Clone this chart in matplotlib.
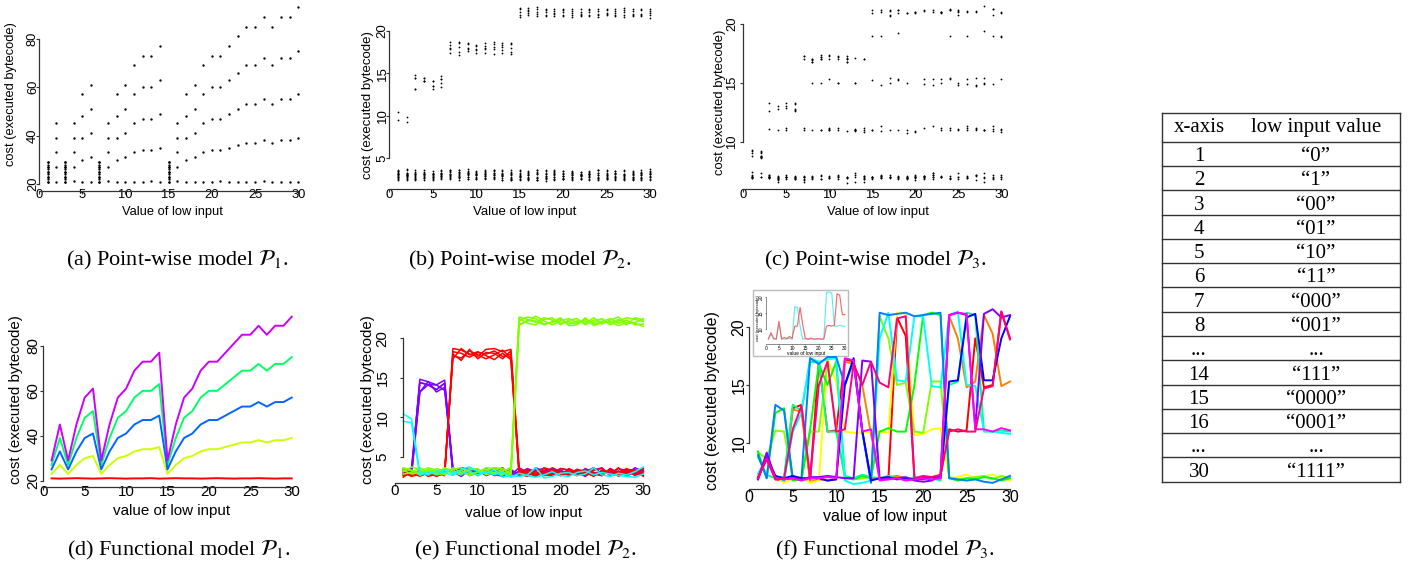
import matplotlib
matplotlib.use("Agg")
import matplotlib.pyplot as plt
from matplotlib.patches import Rectangle

plt.rcParams['font.family'] = ['Liberation Sans', 'DejaVu Sans']
plt.rcParams['mathtext.fontset'] = 'stix'

W, H = 1412, 576
xs = list(range(1, 31))

# ---------------- model P1 (panels a, d) ----------------
p1_red = [21.0, 20.9, 21.0, 21.1, 21.0, 20.9, 21.0, 21.1, 21.0, 20.9, 21.0, 21.0, 21.1, 20.9, 21.0,
          21.1, 21.0, 21.0, 20.9, 21.0, 21.1, 21.0, 20.9, 21.0, 21.0, 21.1, 21.0, 20.9, 21.0, 21.0]
p1_yellow = [23, 27, 23, 27, 30, 31, 23, 27, 30, 31, 33, 34, 34, 35, 23,
             27, 30, 31, 33, 34, 34, 35, 36, 37, 37, 38, 37, 38, 38, 39]
p1_green = [27, 39, 27, 39, 48, 51, 27, 39, 48, 51, 57, 60, 60, 63, 27,
            39, 48, 51, 57, 60, 60, 63, 66, 69, 69, 72, 69, 72, 72, 75]
p1_blue = [25, 33, 25, 33, 39, 41, 25, 33, 39, 41, 45, 47, 47, 49, 25,
           33, 39, 41, 45, 47, 47, 49, 51, 53, 53, 55, 53, 55, 55, 57]
p1_purple = [29, 45, 29, 45, 57, 61, 29, 45, 57, 61, 69, 73, 73, 77, 29,
             45, 57, 61, 69, 73, 73, 77, 81, 85, 85, 89, 85, 89, 89, 93]
p1_series = [p1_red, p1_yellow, p1_green, p1_blue, p1_purple]
p1_colors = ['#FF0000', '#CCFF00', '#00FF66', '#0066FF', '#CC00FF']
# dense dot columns in the point-wise plot
p1_col_x = [1, 3, 7, 15]
p1_col_vals = [21, 22, 23, 24, 25, 26, 27, 28, 29]

# ---------------- model P2 (panels b, e) ----------------
p2_purple = [
    [3.2, 2.9, 14.8, 14.5, 14.1, 14.7, 3.5, 2.8, 3.1, 3.4, 2.6, 3.0, 3.3, 2.7, 3.6, 3.0, 2.5, 3.2, 3.4, 2.9, 3.1, 2.7, 3.5, 3.0, 2.8, 3.3, 3.1, 2.6, 3.0, 3.4],
    [2.7, 3.3, 14.4, 14.1, 13.5, 14.3, 2.9, 3.4, 2.6, 3.0, 3.5, 2.8, 2.5, 3.2, 2.9, 3.5, 3.1, 2.7, 2.6, 3.3, 2.8, 3.4, 2.9, 2.6, 3.2, 2.9, 3.5, 3.2, 2.7, 2.9],
    [3.5, 2.6, 13.2, 14.5, 13.2, 13.8, 3.1, 2.5, 3.3, 2.8, 3.0, 3.6, 2.9, 3.4, 2.6, 2.8, 3.3, 3.5, 3.0, 2.6, 3.4, 3.0, 2.5, 3.3, 3.6, 2.7, 2.8, 3.4, 3.3, 2.6],
    [2.9, 3.6, 14.4, 14.1, 14.1, 13.4, 3.6, 3.1, 2.8, 3.2, 2.7, 3.2, 3.6, 2.5, 3.2, 3.3, 2.7, 2.9, 3.6, 3.1, 2.6, 3.2, 3.3, 2.8, 2.6, 3.5, 3.0, 2.8, 3.6, 3.1],
    [3.4, 3.0, 13.2, 14.1, 13.5, 14.3, 2.7, 3.6, 3.4, 2.6, 3.3, 2.6, 3.0, 3.0, 2.8, 2.6, 3.6, 3.1, 2.8, 3.5, 3.3, 2.9, 3.1, 3.6, 2.9, 3.1, 2.6, 3.1, 2.8, 3.3],
]
p2_red = [
    [2.6, 2.9, 3.1, 2.7, 3.0, 2.6, 18.7, 18.5, 18.0, 17.7, 18.6, 18.7, 18.3, 18.6, 3.3, 2.7, 3.4, 2.9, 3.1, 2.6, 3.5, 3.0, 2.8, 3.6, 2.7, 3.2, 3.0, 3.5, 2.7, 3.1],
    [3.0, 2.5, 2.8, 3.2, 2.6, 3.1, 18.3, 18.1, 17.6, 18.2, 18.0, 18.4, 17.7, 18.0, 2.6, 3.4, 2.8, 3.3, 2.6, 3.2, 2.7, 3.4, 3.1, 2.5, 3.3, 2.8, 3.6, 2.6, 3.3, 2.8],
    [2.4, 3.2, 2.6, 2.9, 3.2, 2.8, 17.8, 17.5, 18.4, 17.9, 17.4, 17.9, 18.5, 17.5, 3.0, 3.1, 2.5, 3.6, 3.3, 2.9, 3.0, 2.6, 3.4, 3.0, 2.6, 3.5, 2.7, 3.0, 3.4, 2.5],
    [2.8, 2.7, 3.3, 2.5, 2.8, 3.3, 17.4, 18.7, 17.9, 18.3, 17.8, 17.3, 18.1, 17.3, 2.8, 2.5, 3.1, 2.6, 2.8, 3.5, 3.3, 2.9, 2.6, 3.3, 3.5, 2.6, 3.2, 2.8, 3.0, 3.5],
    [3.2, 3.0, 2.5, 3.0, 2.5, 2.9, 18.0, 17.2, 18.6, 17.4, 18.2, 18.1, 17.4, 18.4, 3.5, 3.0, 2.7, 2.8, 3.5, 2.7, 2.8, 3.2, 3.0, 2.7, 3.0, 3.3, 2.5, 3.3, 2.6, 3.2],
]
p2_green = [
    [3.6, 3.3, 2.9, 3.4, 3.1, 3.5, 2.8, 3.3, 2.6, 3.1, 3.4, 2.8, 3.2, 3.6, 22.7, 22.4, 22.0, 22.6, 22.3, 21.9, 22.1, 21.8, 22.4, 22.0, 22.5, 21.7, 22.2, 22.6, 22.4, 22.1],
    [3.1, 3.7, 3.4, 2.8, 3.5, 3.2, 3.0, 2.7, 3.5, 3.3, 2.9, 3.3, 2.7, 3.1, 22.2, 22.7, 22.5, 21.8, 22.0, 22.4, 21.8, 22.2, 21.9, 22.6, 21.8, 22.3, 22.7, 21.9, 22.0, 22.5],
    [2.8, 3.0, 3.6, 3.1, 2.7, 2.9, 3.4, 3.6, 3.0, 2.7, 3.2, 3.6, 3.5, 2.8, 21.8, 22.1, 22.8, 22.2, 21.7, 22.2, 22.5, 22.0, 22.2, 21.8, 22.1, 22.5, 21.9, 22.3, 21.7, 21.8],
    [3.3, 2.8, 3.1, 3.6, 3.3, 2.7, 3.6, 3.0, 3.3, 3.5, 2.7, 3.0, 2.9, 3.3, 22.5, 21.9, 21.7, 22.4, 22.6, 21.7, 22.3, 22.5, 21.7, 22.3, 22.4, 21.9, 22.4, 21.7, 22.6, 22.3],
    [3.5, 3.2, 2.7, 3.3, 2.9, 3.6, 3.2, 2.9, 2.8, 3.0, 3.6, 3.5, 3.1, 2.6, 21.6, 22.3, 22.2, 21.7, 22.1, 22.6, 21.6, 21.7, 22.6, 21.6, 22.0, 22.1, 21.6, 22.0, 21.9, 21.5],
]
p2_cyan = [
    [10.4, 9.8, 3.0, 2.7, 3.2, 3.0, 2.6, 3.4, 3.7, 3.1, 2.9, 3.3, 2.4, 2.6, 2.5, 2.7, 3.6, 2.3, 2.5, 2.9, 3.0, 2.6, 2.8, 3.6, 2.7, 2.5, 2.9, 2.7, 3.1, 3.7],
    [9.5, 9.3, 2.6, 3.1, 2.8, 3.3, 3.0, 2.8, 3.2, 2.6, 3.1, 2.7, 3.0, 2.4, 2.9, 2.6, 2.4, 2.7, 3.1, 2.6, 2.5, 3.0, 3.2, 2.7, 3.0, 2.8, 2.6, 2.5, 2.4, 2.8],
]
p2_groups = [p2_purple, p2_red, p2_green, p2_cyan]
p2_colors = ['#8000FF', '#FF0000', '#80FF00', '#00FFFF']

# ---------------- model P3 (panels c, f) ----------------
p3_lines = [
    [7.0, 9.0, 6.9, 6.8, 13.0, 13.3, 6.8, 17.0, 11.0, 11.1, 17.2, 17.0, 11.0, 6.9, 7.0, 6.9, 20.8, 19.2, 7.0, 6.9, 7.1, 7.2, 11.2, 11.0, 11.1, 19.0, 14.8, 15.0, 21.3, 19.0],
    [6.9, 8.8, 7.0, 6.7, 12.9, 12.7, 6.7, 6.9, 6.8, 6.9, 17.0, 16.8, 15.0, 10.8, 7.0, 7.1, 7.2, 7.0, 6.9, 7.1, 7.0, 7.3, 20.9, 19.0, 14.8, 15.3, 21.0, 19.4, 14.9, 15.3],
    [7.2, 9.1, 7.2, 6.6, 7.0, 7.1, 6.6, 6.8, 17.2, 15.3, 11.0, 10.9, 10.9, 11.0, 11.0, 10.9, 21.2, 21.2, 10.7, 10.8, 11.2, 11.3, 7.0, 7.1, 7.3, 7.0, 7.2, 7.3, 7.0, 6.8],
    [9.2, 8.7, 11.1, 11.0, 7.0, 6.8, 11.0, 11.0, 17.0, 11.2, 7.0, 6.9, 7.0, 7.1, 20.9, 19.0, 15.0, 15.2, 11.0, 10.9, 15.3, 15.3, 7.1, 6.9, 7.0, 7.1, 7.2, 6.9, 7.2, 7.0],
    [9.3, 7.0, 12.6, 13.0, 6.8, 6.9, 11.2, 16.8, 15.0, 17.0, 7.1, 6.9, 7.2, 7.0, 11.0, 11.3, 11.0, 11.0, 15.0, 21.0, 21.2, 21.0, 7.0, 6.8, 7.0, 6.9, 7.1, 7.0, 6.8, 7.0],
    [8.8, 7.3, 7.0, 7.1, 13.3, 12.8, 17.0, 16.9, 11.0, 11.0, 7.2, 7.0, 7.3, 7.1, 7.0, 7.2, 7.0, 6.9, 7.1, 7.0, 7.0, 6.8, 15.0, 15.3, 21.2, 21.0, 11.0, 11.0, 11.1, 11.0],
    [7.4, 8.7, 7.1, 6.8, 11.0, 12.6, 17.3, 17.0, 17.2, 17.3, 6.8, 6.5, 6.6, 6.8, 19.0, 21.2, 15.4, 15.3, 20.9, 20.9, 14.9, 14.8, 21.0, 21.3, 15.0, 14.9, 11.1, 11.0, 10.9, 10.8],
    [9.0, 7.0, 13.3, 12.8, 7.0, 7.0, 17.3, 16.8, 17.4, 17.4, 15.0, 17.0, 11.0, 6.6, 21.2, 21.0, 21.1, 21.2, 20.9, 21.0, 21.1, 21.2, 7.0, 6.9, 6.8, 6.9, 6.7, 6.6, 6.9, 7.2],
    [7.0, 8.8, 7.2, 7.0, 7.2, 7.0, 7.0, 7.0, 6.8, 6.9, 15.0, 17.3, 11.1, 6.8, 7.0, 7.1, 6.9, 7.0, 6.9, 7.0, 7.1, 7.0, 15.3, 15.4, 20.8, 21.1, 15.4, 15.4, 19.0, 20.9],
    [6.9, 9.2, 7.0, 6.9, 7.0, 6.9, 7.1, 7.1, 7.2, 7.1, 7.0, 7.0, 17.1, 17.0, 6.9, 7.0, 7.0, 7.1, 6.8, 6.7, 6.8, 7.2, 21.0, 21.2, 21.0, 11.3, 21.1, 21.5, 20.8, 21.0],
    [7.0, 8.7, 7.0, 6.9, 7.0, 6.8, 7.0, 7.0, 7.1, 7.0, 17.3, 17.1, 11.0, 11.2, 6.8, 6.9, 7.0, 6.8, 6.9, 7.0, 6.9, 7.0, 21.0, 21.2, 21.1, 11.2, 11.2, 11.0, 11.3, 11.1],
    [7.1, 8.6, 6.9, 7.0, 11.2, 13.2, 7.0, 15.0, 17.0, 11.0, 11.2, 16.8, 15.0, 17.0, 15.2, 14.8, 20.7, 20.9, 7.0, 7.2, 7.1, 7.3, 11.0, 11.2, 11.0, 11.0, 14.7, 14.9, 21.3, 18.9],
]
p3_colors = ['#FF0000', '#FF8000', '#FFFF00', '#80FF00', '#00FF00', '#00FF80',
             '#00FFFF', '#0080FF', '#0000FF', '#8000FF', '#FF00FF', '#FF0080']
inset_cyan = [7.0, 8.5, 7.0, 7.0, 12.0, 7.2, 7.0, 7.0, 7.3, 7.0, 17.0, 16.8, 11.0, 7.0, 7.1,
              7.0, 7.0, 7.2, 7.0, 7.0, 7.0, 7.1, 21.3, 21.5, 21.2, 11.0, 11.0, 11.2, 11.0, 11.0]
inset_red = [7.0, 9.0, 7.2, 7.0, 12.5, 7.0, 7.5, 7.2, 7.8, 7.2, 11.0, 11.0, 16.8, 11.5, 7.2,
             7.0, 7.3, 7.0, 7.0, 7.2, 7.0, 7.0, 11.0, 11.2, 11.0, 11.3, 21.0, 20.5, 14.5, 14.5]

# ---------------- table ----------------
tab_header = ['x-axis', 'low input value']
tab_col1 = ['1', '2', '3', '4', '5', '6', '7', '8', '...', '14', '15', '16', '...', '30']
tab_col2 = ['\u201c0\u201d', '\u201c1\u201d', '\u201c00\u201d', '\u201c01\u201d', '\u201c10\u201d', '\u201c11\u201d',
            '\u201c000\u201d', '\u201c001\u201d', '...', '\u201c111\u201d', '\u201c0000\u201d', '\u201c0001\u201d',
            '...', '\u201c1111\u201d']

fig = plt.figure(figsize=(W / 100, H / 100), dpi=100)

# overlay in pixel coordinates for captions, labels and the table
ov = fig.add_axes([0, 0, 1, 1], zorder=-1)
ov.set_xlim(0, W)
ov.set_ylim(H, 0)
ov.axis('off')


def px_axes(left, right, top, bottom):
    return fig.add_axes([left / W, 1 - bottom / H, (right - left) / W, (bottom - top) / H])


def r_style(ax, ylim, yticks, fs, ypad, xpad, xlim=(0, 30.4), yspine=None):
    ax.set_xlim(*xlim)
    ax.set_ylim(*ylim)
    ax.patch.set_alpha(0)
    for s in ['top', 'right']:
        ax.spines[s].set_visible(False)
    for s in ['left', 'bottom']:
        ax.spines[s].set_color('#333333')
        ax.spines[s].set_linewidth(0.9)
    xticks = [0, 5, 10, 15, 20, 25, 30]
    ax.set_xticks(xticks)
    ax.set_yticks(yticks)
    ax.spines['left'].set_bounds(yticks[0], yticks[-1])
    ax.spines['bottom'].set_bounds(xticks[0], xticks[-1])
    if yspine is not None:
        ax.spines['left'].set_position(('data', yspine))
    ax.tick_params(direction='out', length=2.5, width=0.8, color='#333333', labelsize=fs)
    ax.tick_params(axis='x', pad=xpad)
    ax.tick_params(axis='y', pad=ypad)
    plt.setp(ax.get_yticklabels(), rotation=90, va='center')


def labels(xl, xpos, ypos, fs):
    ov.text(xpos[0], xpos[1], xl, fontsize=fs, ha='center', va='center')
    ov.text(ypos[0], ypos[1], 'cost (executed bytecode)', fontsize=fs, rotation=90,
            ha='center', va='center')


# (a) point-wise P1
ax = px_axes(39, 302.6, 4.9, 190.7)
for s in p1_series:
    ax.plot(xs, s, 'o', ms=1.7, mew=0, color='black')
for cx in p1_col_x:
    ax.plot([cx] * len(p1_col_vals), p1_col_vals, 'o', ms=1.7, mew=0, color='black')
r_style(ax, (17.2, 94), [20, 40, 60, 80], 9.3, -2.5, -3.5, xlim=(0, 30.5))
labels('Value of low input', (172, 211.5), (11, 94), 9.3)

# (b) point-wise P2
ax = px_axes(389.3, 654.4, 5.2, 189.3)
for grp in p2_groups:
    for ln in grp:
        ax.plot(xs, ln, 'o', ms=1.3, mew=0, color='black')
r_style(ax, (1.36, 23), [5, 10, 15, 20], 9.5, -2, -3, xlim=(0, 30.5))
labels('Value of low input', (525, 212), (368, 105), 9.5)

# (c) point-wise P3
ax = px_axes(743.5, 1005.8, 5.2, 189.3)
for ln in p3_lines:
    ax.plot(xs, ln, 'o', ms=1.3, mew=0, color='black')
r_style(ax, (5.95, 21.6), [10, 15, 20], 9.4, 1.5, -2.5, xlim=(0, 30.5))
labels('Value of low input', (877.5, 212), (719.7, 102), 9.4)

# (d) functional P1
ax = px_axes(43.3, 295, 312.3, 486.7)
for s, c in zip(p1_series, p1_colors):
    ax.plot(xs, s, color=c, lw=1.4)
r_style(ax, (17.3, 95), [20, 40, 60, 80], 10.9, -0.5, -4)
labels('value of low input', (171.7, 511), (15.7, 400), 10.9)

# (e) functional P2
ax = px_axes(395, 646.6, 314.6, 483.3)
for grp, c in zip(p2_groups, p2_colors):
    for ln in grp:
        ax.plot(xs, ln, color=c, lw=1.1)
r_style(ax, (1.63, 23), [5, 10, 15, 20], 10.9, 7, -2, yspine=0.93)
labels('value of low input', (523.3, 512.5), (368, 400), 10.9)

# (f) functional P3
ax = px_axes(749.3, 1013.5, 306.9, 489.3)
for ln, c in zip(p3_lines, p3_colors):
    ax.plot(xs, ln, color=c, lw=1.4)
r_style(ax, (6.05, 21.7), [10, 15, 20], 11.5, -0.5, -2)
labels('value of low input', (885, 516), (712.5, 401), 11.5)

# inset of (f)
ov.add_patch(Rectangle((753, 290), 95, 66, facecolor='white', edgecolor='#BBBBBB', lw=1.0))
ins = px_axes(765.7, 846.3, 291, 344)
ins.plot(xs, inset_cyan, color='#55EEEE', lw=0.8)
ins.plot(xs, inset_red, color='#FF6060', lw=0.8)
r_style(ins, (5.5, 21.8), [10, 15, 20], 3.5, 0.3, 0.3, xlim=(0, 30.5))
ins.tick_params(length=1, width=0.4)
for s in ['left', 'bottom']:
    ins.spines[s].set_linewidth(0.4)
ov.text(806, 353.5, 'value of low input', fontsize=3.5, ha='center', va='center')
ov.text(757.5, 318, 'cost (executed bytecode)', fontsize=3.0, rotation=90, ha='center', va='center')

# captions
serif = ['Liberation Serif', 'DejaVu Serif']
captions = [
    ('(a) Point-wise model $\\mathcal{P}_1$.', 177.5, 265.5),
    ('(b) Point-wise model $\\mathcal{P}_2$.', 520, 265.5),
    ('(c) Point-wise model $\\mathcal{P}_3$.', 875, 265.5),
    ('(d) Functional model $\\mathcal{P}_1$.', 179, 555),
    ('(e) Functional model $\\mathcal{P}_2$.', 525, 555),
    ('(f) Functional model $\\mathcal{P}_3$.', 885, 555),
]
for txt, cx, cy in captions:
    ov.text(cx, cy, txt, fontsize=16, family=serif, ha='center', va='baseline')

# table
t_left, t_right, t_top, t_head = 1161.7, 1400, 112.7, 141.7
row_h = 24.29
t_bottom = t_head + row_h * len(tab_col1)
c1x, c2x = 1199, 1316
lc = '#333333'
ov.plot([t_left, t_left], [t_top, t_bottom], color=lc, lw=1)
ov.plot([t_right, t_right], [t_top, t_bottom], color=lc, lw=1)
ov.plot([t_left, t_right], [t_top, t_top], color=lc, lw=1)
ov.plot([t_left, t_right], [t_head, t_head], color=lc, lw=1)
ov.text(c1x, t_head - 10, tab_header[0], fontsize=15, family=serif, ha='center', va='baseline')
ov.text(c2x, t_head - 10, tab_header[1], fontsize=15, family=serif, ha='center', va='baseline')
for i, (a, b) in enumerate(zip(tab_col1, tab_col2)):
    rb = t_head + row_h * (i + 1)
    ov.plot([t_left, t_right], [rb, rb], color=lc, lw=1)
    ov.text(c1x, rb - 5, a, fontsize=15, family=serif, ha='center', va='baseline')
    ov.text(c2x, rb - 5, b, fontsize=15, family=serif, ha='center', va='baseline')

fig.savefig('out.png', dpi=100)
